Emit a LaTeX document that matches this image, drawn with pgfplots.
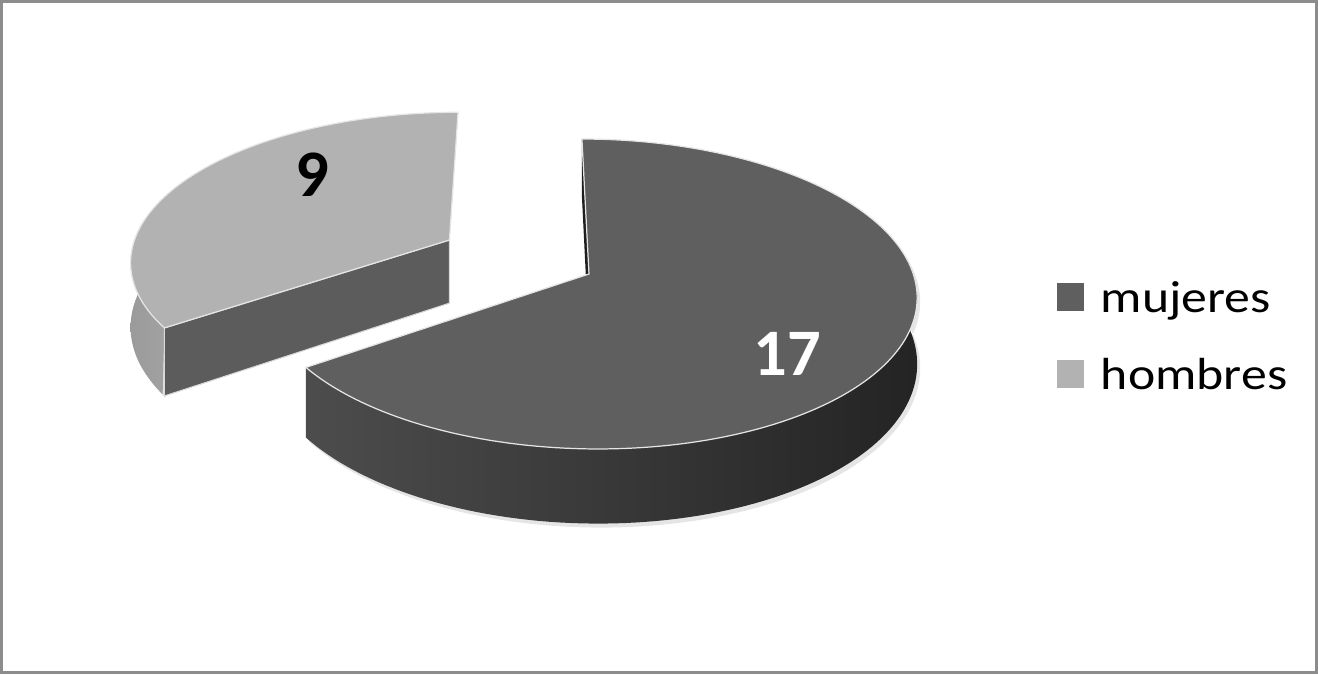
\documentclass[border=0pt]{standalone}
\usepackage{pgfplots}
\pgfplotsset{compat=1.18}
\usepackage{pgfplotstable}
\usepackage{fontspec}
\setmainfont{Carlito}
\usepackage{graphicx}

\definecolor{mtop}{HTML}{5F5F5F}
\definecolor{htop}{HTML}{B2B2B2}
\definecolor{hwall}{HTML}{A2A2A2}
\definecolor{hface}{HTML}{5C5C5C}
\definecolor{msliver}{HTML}{1E1E1E}
\definecolor{frame}{HTML}{8C8C8C}

\pgfplotstableread{
cat value
mujeres 17
hombres 9
}\piedata
\pgfplotstablegetelem{0}{value}\of\piedata \let\vM\pgfplotsretval
\pgfplotstablegetelem{1}{value}\of\piedata \let\vH\pgfplotsretval

% projection of the tilted disc (unit radius) onto the picture, in pixels
\pgfmathdeclarefunction{PX}{2}{\pgfmathparse{589+(324.3*(#1)-8*(#2))/(1+0.129*(#2))}}
\pgfmathdeclarefunction{PY}{1}{\pgfmathparse{274-152.4*(#1)/(1+0.129*(#1))}}
\pgfmathdeclarefunction{DH}{1}{\pgfmathparse{65/(1+0.129*(#1))}}

\pgfmathsetmacro\tot{\vM+\vH}
\pgfmathsetmacro\aMend{90-360*\vM/\tot}
\pgfmathsetmacro\aHend{90+360*\vH/\tot}
\pgfmathsetmacro\aHmid{90+180*\vH/\tot}
\def\expl{0.494}
\pgfmathsetmacro\ox{\expl*cos(\aHmid)}
\pgfmathsetmacro\oy{\expl*sin(\aHmid)}
% hombres apex and corner
\pgfmathsetmacro\hax{PX(\ox,\oy)}
\pgfmathsetmacro\hay{PY(\oy)}
\pgfmathsetmacro\had{DH(\oy)}
\pgfmathsetmacro\hCX{\ox+cos(\aHend)}
\pgfmathsetmacro\hCY{\oy+sin(\aHend)}
\pgfmathsetmacro\hcx{PX(\hCX,\hCY)}
\pgfmathsetmacro\hcy{PY(\hCY)}
\pgfmathsetmacro\hcd{DH(\hCY)}
% mujeres apex and back corner
\pgfmathsetmacro\max{PX(0,0)}
\pgfmathsetmacro\may{PY(0)}
\pgfmathsetmacro\mad{DH(0)}
\pgfmathsetmacro\mbx{PX(0,1)}
\pgfmathsetmacro\mby{PY(1)}
\pgfmathsetmacro\mbd{DH(1)}

\begin{document}
\begin{tikzpicture}
\begin{axis}[
  width=13.18cm, height=6.75cm, scale only axis,
  xmin=0, xmax=1318, ymin=0, ymax=675, y dir=reverse,
  hide axis, clip=false,
  declare function={
    Th(\s)=160+(\aHend-160)*(1-abs(1-\s));
    Tm(\s)=\aMend+(20-\aMend)*(1-abs(1-\s));
  },
  legend style={at={(axis cs:1057,281)}, anchor=north west, draw=none, fill=none,
    inner sep=0pt, outer sep=0pt, row sep=9.9pt, column sep=4.8pt,
    font=\fontsize{12.8}{15}\selectfont,
    nodes={inner sep=0pt, text height=9pt, text depth=3pt}},
  legend cell align=left,
  legend image code/.code={\fill[#1, draw=none] (0pt,-2.5pt) rectangle (7.7pt,5.4pt);},
]
\path (axis cs:0,0) rectangle (axis cs:1318,675);

% ---- soft shadows ----
\addplot[forget plot, draw=none, fill=black!10, domain=0:2, samples=161, variable=\s]
  ({3+PX(\ox+cos(Th(\s)),\oy+sin(Th(\s)))},
   {4+PY(\oy+sin(Th(\s)))+(\s>1.0001)*DH(\oy+sin(Th(\s)))});
\addplot[forget plot, draw=none, fill=black!10, domain=0:2, samples=201, variable=\s]
  ({3+PX(cos(Tm(\s)),sin(Tm(\s)))},
   {4+PY(sin(Tm(\s)))+(\s>1.0001)*DH(sin(Tm(\s)))});

% ---- hombres (exploded slice) ----
\addplot[forget plot, draw=none, left color=hwall!108, right color=hwall, domain=0:2, samples=161, variable=\s]
  ({PX(\ox+cos(Th(\s)),\oy+sin(Th(\s)))},
   {PY(\oy+sin(Th(\s)))+(\s>1.0001)*DH(\oy+sin(Th(\s)))});
\addplot[forget plot, fill=hface, draw=white!85!black, line width=0.3pt]
  coordinates {(\hax,\hay) (\hcx,\hcy) (\hcx,\hcy+\hcd) (\hax,\hay+\had)} -- cycle;
\addplot[forget plot, fill=htop, draw=white!90!black, line width=0.35pt, domain=90:\aHend, samples=100, variable=\t]
  ({PX(\ox+cos(\t),\oy+sin(\t))},{PY(\oy+sin(\t))}) -- (axis cs:\hax,\hay) -- cycle;

% ---- mujeres ----
\addplot[forget plot, draw=none, left color=black!70, middle color=black!80, right color=black!86, domain=0:2, samples=201, variable=\s]
  ({PX(cos(Tm(\s)),sin(Tm(\s)))},
   {PY(sin(Tm(\s)))+(\s>1.0001)*DH(sin(Tm(\s)))});
\addplot[forget plot, fill=msliver, draw=none]
  coordinates {(\mbx,\mby) (\max,\may) (\max,\may+\mad) (\mbx,\mby+\mbd)} -- cycle;
\addplot[forget plot, fill=mtop, draw=white!90!black, line width=0.35pt, domain=\aMend:90, samples=160, variable=\t]
  ({PX(cos(\t),sin(\t))},{PY(sin(\t))}) -- (axis cs:\max,\may) -- cycle;

% ---- data labels ----
\node[font=\fontsize{18.9}{20}\selectfont\bfseries, text=white] at (axis cs:787,354) {\vM};
\node[font=\fontsize{18.9}{20}\selectfont\bfseries, text=black] at (axis cs:312,175) {\vH};

% ---- legend ----
\addlegendimage{fill=mtop}
\addlegendentry{\scalebox{1.15}[1]{mujeres}}
\addlegendimage{fill=htop}
\addlegendentry{\scalebox{1.15}[1]{hombres}}

% ---- frame ----
\draw[frame, line width=0.6pt] (axis cs:1.5,1.5) rectangle (axis cs:1316.5,672.5);
\end{axis}
\end{tikzpicture}
\end{document}
